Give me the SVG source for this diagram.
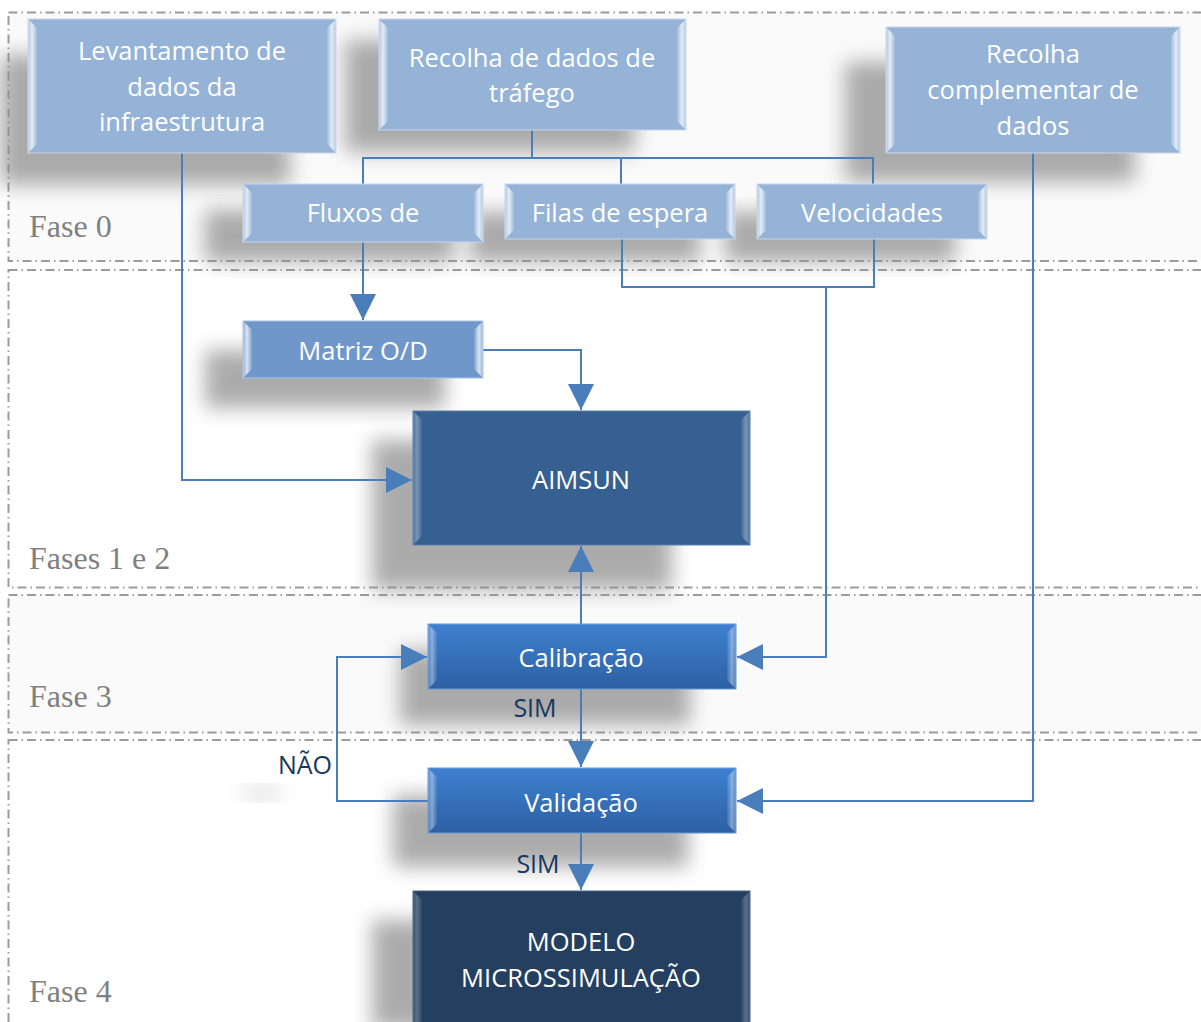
<svg xmlns="http://www.w3.org/2000/svg" width="1201" height="1022" viewBox="0 0 1201 1022">
<style>
.phase{stroke:#9c9c9c;stroke-width:2;stroke-dasharray:9 4 1.5 4}
.plabel{font-family:"Liberation Serif","Times New Roman",serif;font-size:32px;fill:#808080}
.nt{font-family:"Open Sans","Liberation Sans",sans-serif;font-size:25.5px;fill:#ffffff;text-anchor:middle}
.lbl{font-family:"Open Sans","Liberation Sans",sans-serif;font-size:25px;fill:#17375e;text-anchor:middle}
.conn{fill:none;stroke:#4a7ebb;stroke-width:2}
.shadow{fill:#8c8c8c;opacity:0.72;filter:url(#blur)}
.light{fill:#95b3d7;stroke:#c6d7ec;stroke-width:1}
.matriz{fill:#6f97c9;stroke:#a9c2e2;stroke-width:1}
.aimsun{fill:#376092;stroke:#5b7fae;stroke-width:1}
.mid{fill:url(#gMid);stroke:#6a9ad8;stroke-width:1}
.dark{fill:#243f60;stroke:#4b6584;stroke-width:1}
.bl{fill:url(#bevL)}
.br{fill:url(#bevR)}
</style>
<defs>
<filter id="blur" x="-30%" y="-30%" width="160%" height="160%"><feGaussianBlur stdDeviation="10"/></filter>
<linearGradient id="gMid" x1="0" y1="0" x2="0" y2="1"><stop offset="0" stop-color="#3e80d0"/><stop offset="1" stop-color="#2d60a3"/></linearGradient>
<linearGradient id="bevL" x1="0" y1="0" x2="1" y2="0"><stop offset="0" stop-color="#ffffff" stop-opacity="0.25"/><stop offset="0.45" stop-color="#ffffff" stop-opacity="0.75"/><stop offset="1" stop-color="#ffffff" stop-opacity="0.1"/></linearGradient>
<linearGradient id="bevR" x1="1" y1="0" x2="0" y2="0"><stop offset="0" stop-color="#ffffff" stop-opacity="0.25"/><stop offset="0.45" stop-color="#ffffff" stop-opacity="0.75"/><stop offset="1" stop-color="#ffffff" stop-opacity="0.1"/></linearGradient>
<marker id="arr" viewBox="0 0 26 26" refX="26" refY="13" markerWidth="26" markerHeight="26" markerUnits="userSpaceOnUse" orient="auto"><path d="M0,0 L26,13 L0,26 Z" fill="#4a7ebb"/></marker>
</defs>

<g id="phases">
<rect class="phase" x="8.5" y="12.5" width="1210" height="248.5" fill="#fafafa"/>
<rect class="phase" x="8.5" y="270" width="1210" height="317.5" fill="#ffffff"/>
<rect class="phase" x="8.5" y="595" width="1210" height="137.5" fill="#fafafa"/>
<rect class="phase" x="8.5" y="740" width="1210" height="300" fill="#ffffff"/>
<text class="plabel" x="29" y="237">Fase 0</text>
<text class="plabel" x="29" y="569">Fases 1 e 2</text>
<text class="plabel" x="29" y="707">Fase 3</text>
<text class="plabel" x="29" y="1002">Fase 4</text>
</g>

<g id="shadows">
<rect class="shadow" x="0" y="55" width="290" height="130"/>
<rect class="shadow" x="345" y="40" width="290" height="112"/>
<rect class="shadow" x="845" y="62" width="290" height="120"/>
<rect class="shadow" x="205" y="210" width="250" height="52"/>
<rect class="shadow" x="470" y="212" width="230" height="50"/>
<rect class="shadow" x="725" y="212" width="230" height="50"/>
<rect class="shadow" x="205" y="350" width="240" height="58"/>
<rect class="shadow" x="372" y="440" width="300" height="150"/>
<rect class="shadow" x="400" y="650" width="290" height="75"/>
<rect class="shadow" x="393" y="795" width="295" height="72"/>
<rect class="shadow" x="372" y="920" width="300" height="110"/>
<ellipse cx="262" cy="793" rx="22" ry="6" fill="#bdbdbd" filter="url(#blur)" opacity="0.6"/>
</g>

<g id="connectors">
<path class="conn" d="M182,153 V480 H412" marker-end="url(#arr)"/>
<path class="conn" d="M532,130 V158"/>
<path class="conn" d="M363,184 V158 H873 V184"/>
<path class="conn" d="M621,158 V184"/>
<path class="conn" d="M363,242 V320" marker-end="url(#arr)"/>
<path class="conn" d="M622,239 V287 H874 V239"/>
<path class="conn" d="M826,287 V657 H737" marker-end="url(#arr)"/>
<path class="conn" d="M483,350 H581 V410" marker-end="url(#arr)"/>
<path class="conn" d="M581,624 V546" marker-end="url(#arr)"/>
<path class="conn" d="M581,689 V767" marker-end="url(#arr)"/>
<path class="conn" d="M428,801 H337 V657 H427" marker-end="url(#arr)"/>
<path class="conn" d="M1033,153 V801 H737" marker-end="url(#arr)"/>
<path class="conn" d="M581,833 V890" marker-end="url(#arr)"/>
<text class="lbl" x="535" y="717">SIM</text>
<text class="lbl" x="305" y="774">NÃO</text>
<text class="lbl" x="538" y="873">SIM</text>
</g>

<g id="n-levantamento">
<rect class="light" x="28" y="19" width="308" height="134"/>
<polygon class="bl" points="28,19 37,28 37,144 28,153"/>
<polygon class="br" points="336,19 327,28 327,144 336,153"/>
<text class="nt" x="182" y="60">Levantamento de</text>
<text class="nt" x="182" y="96">dados da</text>
<text class="nt" x="182" y="131">infraestrutura</text>
</g>

<g id="n-recolha-trafego">
<rect class="light" x="379" y="19" width="307" height="111"/>
<polygon class="bl" points="379,19 388,28 388,121 379,130"/>
<polygon class="br" points="686,19 677,28 677,121 686,130"/>
<text class="nt" x="532" y="67">Recolha de dados de</text>
<text class="nt" x="532" y="102">tráfego</text>
</g>

<g id="n-recolha-complementar">
<rect class="light" x="886" y="27" width="294" height="126"/>
<polygon class="bl" points="886,27 895,36 895,144 886,153"/>
<polygon class="br" points="1180,27 1171,36 1171,144 1180,153"/>
<text class="nt" x="1033" y="63">Recolha</text>
<text class="nt" x="1033" y="99">complementar de</text>
<text class="nt" x="1033" y="135">dados</text>
</g>

<g id="n-fluxos">
<rect class="light" x="243" y="184" width="240" height="58"/>
<polygon class="bl" points="243,184 252,193 252,233 243,242"/>
<polygon class="br" points="483,184 474,193 474,233 483,242"/>
<text class="nt" x="363" y="222">Fluxos de</text>
</g>

<g id="n-filas">
<rect class="light" x="505" y="184" width="230" height="55"/>
<polygon class="bl" points="505,184 514,193 514,230 505,239"/>
<polygon class="br" points="735,184 726,193 726,230 735,239"/>
<text class="nt" x="620" y="222">Filas de espera</text>
</g>

<g id="n-velocidades">
<rect class="light" x="757" y="184" width="230" height="55"/>
<polygon class="bl" points="757,184 766,193 766,230 757,239"/>
<polygon class="br" points="987,184 978,193 978,230 987,239"/>
<text class="nt" x="872" y="222">Velocidades</text>
</g>

<g id="n-matriz">
<rect class="matriz" x="243" y="321" width="240" height="57"/>
<polygon class="bl" points="243,321 252,330 252,369 243,378"/>
<polygon class="br" points="483,321 474,330 474,369 483,378"/>
<text class="nt" x="363" y="360">Matriz O/D</text>
</g>

<g id="n-aimsun">
<rect class="aimsun" x="413" y="411" width="337" height="134"/>
<polygon class="bl" points="413,411 422,420 422,536 413,545" opacity="0.45"/>
<polygon class="br" points="750,411 741,420 741,536 750,545" opacity="0.45"/>
<text class="nt" x="581" y="489">AIMSUN</text>
</g>

<g id="n-calibracao">
<rect class="mid" x="428" y="624" width="308" height="65"/>
<polygon class="bl" points="428,624 437,633 437,680 428,689" opacity="0.55"/>
<polygon class="br" points="736,624 727,633 727,680 736,689" opacity="0.55"/>
<text class="nt" x="581" y="667">Calibração</text>
</g>

<g id="n-validacao">
<rect class="mid" x="428" y="768" width="308" height="65"/>
<polygon class="bl" points="428,768 437,777 437,824 428,833" opacity="0.55"/>
<polygon class="br" points="736,768 727,777 727,824 736,833" opacity="0.55"/>
<text class="nt" x="581" y="812">Validação</text>
</g>

<g id="n-modelo">
<rect class="dark" x="413" y="891" width="337" height="140"/>
<polygon class="bl" points="413,891 422,900 422,1031 413,1031" opacity="0.35"/>
<polygon class="br" points="750,891 741,900 741,1031 750,1031" opacity="0.35"/>
<text class="nt" x="581" y="951">MODELO</text>
<text class="nt" x="581" y="987">MICROSSIMULAÇÃO</text>
</g>
</svg>
